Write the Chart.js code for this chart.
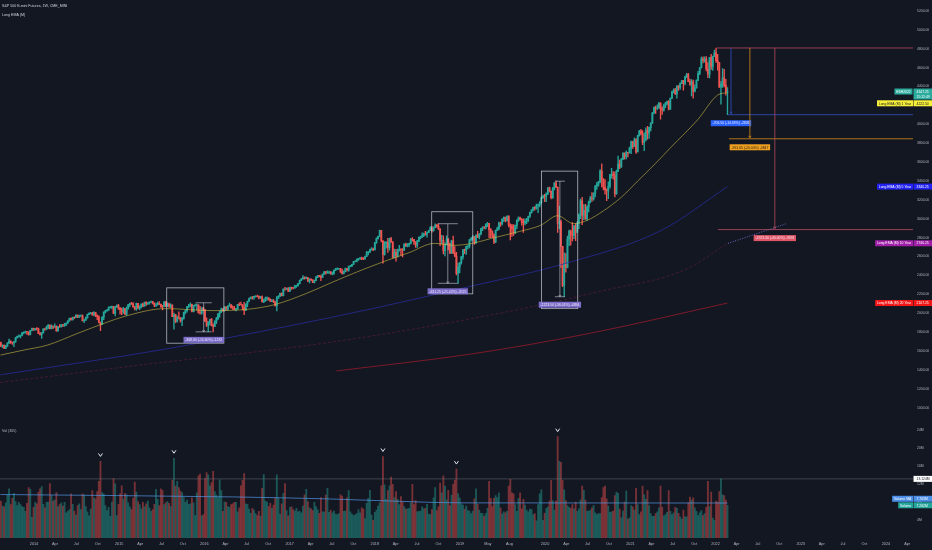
<!DOCTYPE html>
<html lang="en">
<head>
<meta charset="UTF-8">
<title>S&P 500 E-mini Futures, 1W, CME_MINI</title>
<script src="https://cdn.jsdelivr.net/npm/chart.js"></script>
<style>
html, body { margin: 0; padding: 0; background: #131722; overflow: hidden; }
#box { width: 932px; height: 550px; }
</style>
</head>
<body>
<div id="box"><canvas id="chart" width="932" height="550"></canvas></div>
<script>
// weekly bars of ESH2022 continuous, first bar is the week of 2013-08-12
const firstMonday = '2013-08-12';
const firstOpen = 1688;

const weekClose = [
  // 2013
  1652,1659,1627,1651,1683,1704,1687,1685,1700,1740,1754,1757,1766,1793,1798,1802,1801,1772,1816,1838,
  // 2014
  1826,1837,1834,1784,1776, 1792,1834,1832,1854, 1874,1835,1861,1852, 1860,1811,1859,1858, 1876,1872,1872,1895,1919, 1945,1930,1957,1954, 1979,1960,1971,1972, 1920,1925,1950,1985,2000, 2004,1982,2006,1978, 1962,1901,1881,1958,2011, 2025,2035,2058,2063, 2071,1998,2065,2084,
  // 2015
  2052,2038,2013,2045,1988, 2049,2090,2104,2098, 2066,2047,2103,2055, 2058,2095,2075,2111, 2101,2110,2116,2120,2100, 2085,2087,2103,2094, 2069,2068,2119,2073,2097, 2071,2085,1964,1982, 1914,1954,1949,1924, 1944,2008,2027,2069,2072, 2093,2016,2082,2085, 2087,2006,2000,2054,
  // 2016
  2038,1917,1874,1900,1934, 1874,1859,1911,1943, 1994,2017,2044,2027, 2066,2041,2075,2086,2059, 2050,2040,2046,2093, 2092,2089,2064,2030, 2097,2124,2155,2169,2166, 2177,2178,2177,2162, 2173,2120,2132,2157,2161, 2146,2126,2134,2121, 2078,2159,2177,2209, 2186,2255,2254,2259,2233,
  // 2017
  2271,2269,2266,2289, 2292,2312,2347,2364, 2380,2369,2376,2341,2359, 2352,2324,2345,2381, 2397,2387,2379,2413, 2437,2429,2431,2436,2419, 2422,2456,2469,2469, 2472,2437,2421,2439, 2472,2457,2497,2499,2516, 2546,2550,2572,2578, 2584,2579,2575,2600, 2639,2648,2672,2679,2669,
  // 2018
  2746,2789,2813,2876, 2767,2623,2736,2750, 2694,2790,2754,2590,2643, 2606,2659,2673,2672, 2666,2731,2716,2725, 2736,2782,2779,2756,2721, 2762,2804,2804,2821, 2843,2836,2854,2877,2904, 2874,2907,2931,2919, 2891,2771,2772,2661, 2728,2786,2740,2636,2767, 2637,2603,2421,2489,
  // 2019
  2534,2599,2671,2668, 2709,2711,2779,2796, 2807,2746,2826,2805,2838, 2897,2911,2910,2944, 2950,2884,2862,2830,2755, 2878,2892,2954,2945, 2995,3016,2979,3027, 2935,2921,2891,2849,2927, 2981,3009,2994,2962, 2955,2972,2988,3024, 3067,3094,3121,3111,3143, 3147,3171,3224,3243,
  // 2020
  3237,3264,3327,3292,3224, 3325,3377,3335,2951, 2966,2708,2294,2527, 2485,2786,2868,2829, 2822,2923,2856,2947,3040, 3190,3035,3090,3000, 3124,3179,3218,3209,3266, 3346,3366,3392,3505, 3420,3335,3308,3294, 3342,3469,3474,3456,3262, 3500,3578,3549,3629, 3693,3657,3703,3696,
  // 2021
  3748,3817,3762,3835,3707, 3880,3928,3900,3805, 3835,3936,3906,3967, 4013,4122,4178,4174,4174, 4225,4166,4149,4197, 4222,4240,4160,4275, 4345,4363,4322,4405,4389, 4430,4462,4435,4502, 4530,4452,4426,4450, 4352,4385,4465,4538,4599, 4691,4676,4691,4588, 4532,4706,4614,4718,4758,
  // 2022
  4672,4657,4394,4425, 4492,4412,4342,4347.25
];
const weekHigh = [
  1693,1665,1664,1659,1685,1726,1707,1694,1702,1743,1758,1770,1767,1795,1803,1810,1808,1803,1819,1842,
  1842,1840,1846,1842,1796, 1795,1835,1843,1862, 1879,1875,1876,1865, 1887,1866,1860,1878, 1881,1881,1893,1897,1920, 1947,1950,1958,1960, 1981,1979,1980,1983, 1982,1937,1958,1991,2002, 2010,2005,2017,2008, 1983,1973,1905,1961,2015, 2029,2039,2066,2072, 2074,2073,2073,2089,
  2094,2062,2054,2063,2051, 2068,2093,2107,2115, 2112,2070,2108,2102, 2078,2100,2107,2116, 2122,2112,2120,2127,2125, 2110,2108,2117,2123, 2096,2084,2120,2125,2110, 2106,2098,2088,2000, 1988,1968,2014,1952, 1955,2012,2030,2070,2093, 2110,2096,2084,2097, 2097,2087,2073,2058,
  2064,2035,1950,1910,1934, 1945,1888,1922,1955, 1996,2018,2054,2049, 2066,2068,2081,2106,2093, 2077,2072,2052,2094, 2110,2117,2091,2115, 2098,2128,2159,2171,2175, 2182,2187,2191,2184, 2178,2184,2149,2171,2172, 2162,2151,2146,2145, 2122,2179,2187,2212, 2214,2257,2274,2267,2272,
  2275,2277,2274,2296, 2298,2314,2349,2365, 2399,2384,2386,2374,2365, 2365,2354,2351,2387, 2399,2400,2402,2414, 2439,2443,2447,2446,2440, 2438,2456,2474,2480, 2475,2473,2466,2447, 2477,2474,2498,2506,2518, 2549,2556,2574,2580, 2590,2593,2589,2604, 2655,2651,2679,2694,2688,
  2750,2797,2817,2879, 2875,2765,2758,2757, 2792,2794,2804,2758,2678, 2677,2679,2718,2683, 2683,2733,2742,2737, 2742,2792,2800,2782,2752, 2771,2807,2815,2850, 2848,2867,2860,2878,2916, 2917,2913,2947,2942, 2945,2895,2824,2818, 2746,2818,2784,2742,2770, 2815,2706,2645,2530,
  2538,2600,2675,2678, 2710,2720,2780,2800, 2822,2810,2830,2867,2842, 2899,2914,2916,2947, 2962,2945,2897,2872,2840, 2880,2912,2964,2964, 3000,3019,3018,3031, 3031,2947,2940,2939,2932, 2990,3021,3017,3001, 3000,2998,3004,3027, 3070,3097,3124,3128,3156, 3156,3182,3230,3250,
  3259,3275,3330,3335,3290, 3333,3382,3397.5,3263, 3134,2985,2600,2640, 2632,2815,2880,2880, 2959,2930,2945,2970,3053, 3209,3227,3151,3153, 3139,3187,3236,3276,3275, 3350,3385,3395,3520, 3581,3424,3414,3316, 3390,3471,3535,3500,3496, 3514,3664,3622,3640, 3700,3699,3720,3703,
  3760,3823,3816,3857,3850, 3886,3935,3946,3933, 3911,3962,3978,3970, 4015,4125,4184,4192,4205, 4233,4228,4186,4214, 4234,4246,4250,4280, 4351,4375,4382,4407,4412, 4438,4466,4466,4510, 4541,4540,4480,4473, 4467,4419,4470,4561,4601, 4712,4715,4715,4718, 4653,4710,4740,4723,4787,
  4808.25,4742,4646,4456, 4590,4583,4476,4390
];
const weekLow = [
  1645,1635,1626,1624,1648,1680,1679,1670,1645,1691,1734,1746,1738,1760,1780,1788,1775,1766,1769,1813,
  1818,1818,1823,1783,1768, 1733,1790,1817,1825, 1836,1832,1832,1835, 1851,1808,1808,1848, 1851,1858,1859,1869,1893, 1915,1925,1926,1942, 1951,1952,1951,1962, 1915,1898,1924,1948,1984, 1992,1978,1972,1963, 1932,1896,1814,1879,1930, 2002,2020,2030,2055, 2046,1995,1970,2062,
  2040,1988,1985,1996,1985, 1977,2042,2070,2093, 2063,2033,2030,2045, 2036,2055,2068,2076, 2081,2090,2095,2114,2098, 2070,2069,2084,2091, 2060,2034,2067,2068,2070, 2061,2058,1963,1831, 1900,1904,1939,1905, 1867,1936,1991,2010,2055, 2065,2013,2014,2073, 2034,2000,1990,1988,
  2026,1910,1857,1804,1874, 1864,1802,1857,1888, 1930,1957,2005,2018, 2020,2033,2032,2074,2053, 2040,2033,2023,2042, 2080,2085,2034,1985, 2033,2070,2123,2151,2149, 2145,2170,2172,2152, 2155,2120,2110,2125,2136, 2138,2124,2118,2111, 2075,2025,2156,2176, 2183,2183,2240,2251,2228,
  2231,2252,2256,2262, 2272,2287,2310,2343, 2356,2361,2365,2333,2319, 2344,2323,2321,2345, 2375,2384,2344,2382, 2410,2414,2422,2418,2411, 2404,2409,2449,2461, 2462,2432,2412,2415, 2437,2445,2444,2489,2493, 2519,2542,2543,2558, 2568,2566,2566,2573, 2599,2618,2640,2667,2662,
  2685,2738,2783,2811, 2755,2529,2614,2688, 2643,2666,2748,2585,2586, 2551,2595,2659,2613, 2595,2661,2704,2702, 2704,2733,2762,2728,2697, 2697,2757,2785,2802, 2811,2826,2805,2853,2883, 2857,2867,2903,2907, 2883,2714,2734,2628, 2605,2725,2671,2630,2642, 2629,2597,2404,2316,
  2426,2520,2571,2630, 2623,2681,2690,2762, 2774,2728,2737,2800,2786, 2828,2873,2892,2892, 2916,2800,2800,2799,2736, 2747,2873,2882,2919, 2935,2969,2967,2973, 2913,2776,2812,2824,2842, 2895,2972,2988,2932, 2855,2935,2948,2970, 3014,3058,3082,3090,3102, 3065,3125,3162,3215,
  3181,3181,3255,3284,3211, 3215,3304,3328,2855, 2894,2484,2280,2174, 2434,2480,2715,2720, 2766,2790,2768,2873,2895, 3000,2936,2990,2994, 2982,3072,3168,3182,3196, 3232,3310,3346,3380, 3338,3306,3261,3190, 3212,3323,3430,3419,3231, 3260,3499,3530,3543, 3629,3630,3634,3654,
  3698,3690,3745,3770,3692, 3720,3875,3888,3785, 3722,3823,3843,3850, 3931,4010,4110,4114,4155, 4168,4054,4105,4140, 4175,4205,4152,4157, 4273,4332,4316,4277,4358, 4369,4430,4362,4417, 4494,4452,4413,4300, 4278,4343,4382,4468,4525, 4594,4650,4657,4565, 4495,4490,4580,4570,4720,
  4655,4572,4390,4212, 4390,4395,4309,4101.75
];
// weekly volume, millions of contracts
const weekVolume = [
  8.2,7.1,6.9,7.8,9.6,10.9,7.4,8.8,9.9,8.1,7.2,7.9,7.4,7.0,6.8,5.9,7.7,11.2,10.8,4.6,
  6.8,7.9,7.6,10.2,10.9, 11.4,7.5,6.7,7.9, 8.0,12.1,9.4,8.2, 8.5,10.1,7.0,7.4, 7.8,7.1,7.9,5.6,5.9, 6.3,9.8,7.5,6.0, 5.1,7.2,7.6,6.3, 9.8,9.5,7.0,5.8,4.9, 6.4,10.5,8.9,8.7, 10.3,12.6,17.0,10.1,9.8, 7.2,6.1,6.8,4.8, 8.0,13.2,12.0,5.0,
  7.5,9.8,11.6,8.7,9.9, 9.6,7.8,6.9,6.3, 8.8,12.4,10.2,8.1, 7.4,6.5,7.9,7.0, 7.6,8.2,6.7,5.9,6.3, 7.5,10.8,8.6,7.2, 10.9,10.6,7.4,7.8,8.1, 7.7,7.0,12.8,17.7, 11.5,12.6,11.2,10.4, 10.1,9.0,7.9,8.4,7.5, 7.6,8.9,7.8,5.0, 10.0,13.8,14.2,4.9,
  5.2,13.2,14.5,14.0,11.6, 12.3,14.8,10.3,9.5, 9.0,12.9,10.5,5.9, 8.0,7.9,7.0,6.8,7.4, 7.6,7.9,7.9,5.8, 6.7,11.6,12.8,14.3, 7.6,7.5,6.4,5.5,6.6, 6.2,5.4,5.0,5.9, 4.8,11.0,14.1,8.2,8.0, 7.0,7.7,6.6,7.3, 9.0,14.0,8.8,5.3, 7.6,9.9,12.1,6.1,4.9,
  6.8,6.9,6.3,6.0, 6.6,5.8,6.0,5.6, 7.1,9.6,10.8,8.1,6.7, 6.5,6.1,7.9,7.0, 6.3,5.5,9.0,5.8, 5.8,9.5,11.0,5.7,6.2, 5.6,6.0,5.3,5.2, 5.4,9.6,9.3,5.9, 6.0,8.9,10.5,5.8,5.3, 5.0,5.2,5.4,6.3, 5.6,6.7,6.4,4.3, 7.7,8.8,10.6,5.1,3.9,
  5.7,6.2,7.1,7.8, 11.6,18.1,11.8,8.6, 10.5,11.6,13.5,11.9,9.0, 10.3,8.6,7.4,9.2, 8.0,7.0,6.4,6.5, 6.6,7.8,11.9,7.4,8.3, 5.8,5.9,6.0,6.9, 6.5,6.6,7.5,5.3,5.2, 6.3,8.9,11.2,6.1, 6.9,12.2,10.0,13.8, 11.5,8.5,10.6,7.2,9.5, 11.9,12.8,15.3,9.8,
  8.9,7.6,7.3,6.4, 7.1,6.1,6.0,5.4, 6.0,8.7,10.9,7.5,6.2, 5.5,5.4,4.8,5.4, 6.6,12.6,8.8,7.0,8.8, 9.4,9.0,10.0,6.7, 5.3,5.8,5.6,5.9, 11.5,13.0,10.0,9.8,7.4, 5.9,8.8,10.0,6.5, 8.6,7.3,6.2,5.8, 6.4,6.3,5.2,5.4,3.8, 7.4,9.8,10.7,3.9,
  5.5,6.6,6.9,8.2,12.8, 8.3,6.2,8.2,22.5, 17.0,16.8,12.8,10.7, 8.3,7.2,6.8,6.6, 7.4,6.5,8.0,5.9,6.5, 8.5,11.5,10.6,8.4, 5.9,6.0,6.2,6.7,7.2, 5.6,5.2,5.4,5.4, 9.0,11.2,11.5,8.7, 7.1,5.7,5.8,6.0,9.4, 10.2,9.9,6.4,4.5, 6.0,8.0,10.4,4.2,
  4.5,7.2,6.9,6.2,11.0, 7.4,5.2,5.8,11.5, 9.6,8.6,10.5,7.2, 5.4,4.8,4.8,5.4,5.8, 6.7,11.5,6.8,4.9, 5.2,5.7,10.5,5.9, 5.2,5.6,6.8,6.6,5.5, 4.7,4.2,6.2,4.7, 4.7,7.8,9.1,8.4, 8.9,6.7,5.9,5.0,5.6, 6.1,5.0,5.4,6.8, 12.6,7.0,10.2,4.4,3.9,
  8.2,8.0,10.3,13.124, 9.6,9.4,8.4,7.262
];

// Long EMA (M) lines at a few dates
const ema1Year = [['2013-08-10',1556],['2013-11-20',1610],['2014-02-27',1661],['2014-07-01',1780],['2014-10-16',1881],['2015-02-06',1975],['2015-07-17',2048],['2016-02-05',2027],['2016-07-01',2040],['2016-10-28',2090],['2017-03-15',2210],['2017-06-26',2320],['2017-10-20',2440],['2018-02-25',2561],['2018-05-27',2640],['2018-09-14',2739],['2018-12-05',2718],['2019-02-24',2740],['2019-05-16',2792],['2019-09-13',2865],['2019-12-13',2930],['2020-02-24',3032],['2020-05-02',2948],['2020-07-01',2985],['2020-09-08',3085],['2020-11-24',3230],['2021-02-01',3399],['2021-04-20',3590],['2021-06-23',3755],['2021-10-16',4048],['2022-01-10',4310],['2022-02-21',4335]];
const ema5Year = [['2013-08-10',1347],['2015-07-17',1619],['2017-06-26',1954],['2019-02-24',2289],['2020-04-03',2530],['2021-05-12',2875],['2022-02-21',3340]];
const ema10Year = [['2013-08-10',1265],['2015-05-10',1462],['2017-06-26',1692],['2019-09-13',2040],['2020-09-08',2240],['2021-08-21',2457],['2022-02-21',2740]];
const ema20Year = [['2017-07-20',1388],['2019-02-15',1566],['2020-07-10',1786],['2022-02-21',2107]];
const volumeMA = [['2013-08-10',9.65],['2016-05-01',9.12],['2017-06-15',8.68],['2018-08-01',7.96],['2019-01-28',7.80],['2022-02-21',7.763]];

// axis ticks
const priceTicks = [1000,1200,1400,1600,1800,2000,2200,2400,2600,2800,3000,3200,3400,3600,3800,4000,4200,4400,4600,4800,5000,5200];
const volumeTicks = [4,8,12,16,20,24];
const tickDates = ['2014-01-01','2014-04-01','2014-07-01','2014-10-01','2015-01-01','2015-04-01','2015-07-01','2015-10-01','2016-01-01','2016-04-01','2016-07-01','2016-10-01','2017-01-01','2017-04-01','2017-07-01','2017-10-01','2018-01-01','2018-04-01','2018-07-01','2018-10-01','2019-01-01','2019-05-01','2019-08-01','2020-01-01','2020-04-01','2020-07-01','2020-10-01','2021-01-01','2021-04-01','2021-07-01','2021-10-01','2022-01-01','2022-04-01','2022-07-01','2022-10-01','2023-01-01','2023-04-01','2023-07-01','2023-10-01','2024-01-01','2024-04-01'];
const tickLabels = ['2014','Apr','Jul','Oct','2015','Apr','Jul','Oct','2016','Apr','Jul','Oct','2017','Apr','Jul','Oct','2018','Apr','Jul','Oct','2019','May','Aug','2020','Apr','Jul','Oct','2021','Apr','Jul','Oct','2022','Apr','Jul','Oct','2023','Apr','Jul','Oct','2024','Apr'];

// drawings: price range boxes, drawdown levels from the top, tags
const rangeBoxes = [
  {from:'2015-07-24', to:'2016-03-25', top:2268, bottom:1682, capFrom:'2015-11-25', capTo:'2016-02-02', hi:2110, lo:1802, text:'-308.00 (-14.60%) -1232'},
  {from:'2018-09-02', to:'2019-02-25', top:3074, bottom:2205, capFrom:'2018-09-28', capTo:'2018-12-23', hi:2947.25, lo:2316, text:'-631.25 (-21.42%) -2525'},
  {from:'2019-12-17', to:'2020-05-20', top:3504, bottom:2048, capFrom:'2020-02-12', capTo:'2020-03-26', hi:3397.5, lo:2174, text:'-1223.50 (-36.01%) -4894'}
];
const topPrice = 4808.25, topDate = '2022-01-06';
const drawdowns = [
  {price:4101.75, from:'2022-02-23', at:'2022-03-08', line:'#2f52c4', bg:'#2962ff', fg:'#e8ecff', text:'-706.50 (-14.69%) -2826'},
  {price:3846.60, from:'2022-02-27', at:'2022-05-28', line:'#d48a16', bg:'#f0a020', fg:'#2b2110', text:'-961.65 (-20.00%) -3847'},
  {price:2884.95, from:'2022-01-11', at:'2022-09-12', line:'#b84a5e', bg:'#e05668', fg:'#fbe9ec', text:'-1923.30 (-40.00%) -7693'}
];
const dottedLine = [['2022-02-23',2739],['2022-11-02',2949]];
const emaTags = [
  {name:'Long EMA (M) 1 Year', value:4222.50, bg:'#f7ee3a', fg:'#131722'},
  {name:'Long EMA (M) 5 Year', value:3340.25, bg:'#2222f2', fg:'#ffffff'},
  {name:'Long EMA (M) 10 Year', value:2740.25, bg:'#a01fa9', fg:'#ffffff'},
  {name:'Long EMA (M) 20 Year', value:2107.25, bg:'#f21616', fg:'#ffffff'}
];
const lastPrice = 4347.25, symbol = 'ESH2022', countdown = '15:12:49';
const volumeLevel = 13.124;
const volumeMarks = ['2014-10-17','2015-08-28','2018-02-09','2018-12-21','2020-02-28'];

// ---------------------------------------------------------------
const DAY = 864e5;
const Y2014 = Date.UTC(2014, 0, 1);
const toYear = s => 2014 + (Date.parse(s + 'T00:00:00Z') - Y2014) / (365.25 * DAY);
const mondayMs = Date.parse(firstMonday + 'T00:00:00Z');
const barTime = weekClose.map((_, i) => 2014 + (mondayMs + i * 7 * DAY - Y2014) / (365.25 * DAY));
const weekOpen = weekClose.map((c, i) => i ? weekClose[i - 1] : firstOpen);
const isUp = weekClose.map((c, i) => c >= weekOpen[i]);

const UP = '#26a69a', DOWN = '#ef5350';
const FONT = '"Liberation Sans", Arial, sans-serif';
const X_MIN = 2013.601, X_MAX = 2024.317;

const pts = arr => arr.map(([d, v]) => ({x: toYear(d), y: v}));

function tag(ctx, text, x, y, bg, fg, align) {
  ctx.font = '3.4px ' + FONT;
  const w = ctx.measureText(text).width + 3.5;
  const left = align === 'right' ? x - w : align === 'center' ? x - w / 2 : x;
  ctx.fillStyle = bg;
  ctx.fillRect(left, y - 3, w, 6);
  ctx.fillStyle = fg;
  ctx.textAlign = 'left';
  ctx.textBaseline = 'middle';
  ctx.fillText(text, left + 1.75, y + 0.3);
  return w;
}

function seg(ctx, x1, y1, x2, y2) {
  ctx.beginPath();
  ctx.moveTo(x1, y1);
  ctx.lineTo(x2, y2);
  ctx.stroke();
}

const overlay = {
  id: 'overlay',
  afterDatasetsDraw(chart) {
    const {ctx, chartArea: area, scales} = chart;
    const X = d => scales.x.getPixelForValue(toYear(d));
    const P = v => scales.y.getPixelForValue(v);
    const V = v => scales.yv.getPixelForValue(v);
    ctx.save();
    ctx.lineWidth = 0.8;

    // price range boxes
    rangeBoxes.forEach(b => {
      const x1 = X(b.from), x2 = X(b.to), y1 = P(b.top), y2 = P(b.bottom);
      ctx.strokeStyle = 'rgba(205,208,216,0.85)';
      ctx.strokeRect(x1, y1, x2 - x1, y2 - y1);
      const c1 = X(b.capFrom), c2 = X(b.capTo), cm = (c1 + c2) / 2, yh = P(b.hi), yl = P(b.lo);
      ctx.strokeStyle = 'rgba(190,193,204,0.8)';
      seg(ctx, c1, yh, c2, yh);
      seg(ctx, c1, yl, c2, yl);
      seg(ctx, cm, yh, cm, yl);
      seg(ctx, cm - 1.2, yl - 1.8, cm, yl);
      seg(ctx, cm + 1.2, yl - 1.8, cm, yl);
      tag(ctx, b.text, cm, yl + 8, 'rgba(134,116,214,0.92)', '#ecebff', 'center');
    });

    // drawdown levels measured from the top
    const xTop = X(topDate), yTop = P(topPrice);
    ctx.strokeStyle = '#b84a5e';
    seg(ctx, xTop, yTop, area.right, yTop);
    drawdowns.forEach(d => {
      const y = P(d.price), xa = X(d.at);
      ctx.strokeStyle = d.line;
      seg(ctx, X(d.from), y, area.right, y);
      seg(ctx, xa, yTop, xa, y - 1);
      seg(ctx, xa - 1.3, y - 3, xa, y - 1);
      seg(ctx, xa + 1.3, y - 3, xa, y - 1);
      tag(ctx, d.text, xa, y + 8.5, d.bg, d.fg, 'center');
    });

    // volume level line and spike marks
    ctx.strokeStyle = 'rgba(120,124,136,0.55)';
    seg(ctx, area.left, V(volumeLevel), area.right, V(volumeLevel));
    ctx.strokeStyle = '#e8e9ee';
    ctx.lineWidth = 1;
    volumeMarks.forEach(d => {
      const i = Math.round((Date.parse(d + 'T00:00:00Z') - 4 * DAY - mondayMs) / (7 * DAY));
      const x = scales.x.getPixelForValue(barTime[i]);
      const y = V(weekVolume[i]) - 5;
      ctx.beginPath();
      ctx.moveTo(x - 2, y - 3);
      ctx.lineTo(x, y);
      ctx.lineTo(x + 2, y - 3);
      ctx.stroke();
    });
    ctx.restore();
  },
  afterDraw(chart) {
    const {ctx, chartArea: area, scales} = chart;
    const P = v => scales.y.getPixelForValue(v);
    const V = v => scales.yv.getPixelForValue(v);
    const sx = area.right + 0.5;
    ctx.save();

    // titles
    ctx.fillStyle = '#d1d4dc';
    ctx.font = '3.6px ' + FONT;
    ctx.textAlign = 'left';
    ctx.textBaseline = 'middle';
    ctx.fillText('S&P 500 E-mini Futures, 1W, CME_MINI', 2, 5.5);
    ctx.fillText('Long EMA (M)', 2, 14.5);
    ctx.fillStyle = '#b2b5be';
    ctx.fillText('Vol (365)', 2, 431);

    // EMA tags on the price scale
    emaTags.forEach(t => {
      const y = P(t.value);
      tag(ctx, t.name, area.right, y, t.bg, t.fg, 'right');
      ctx.fillStyle = t.bg;
      ctx.fillRect(sx, y - 3, 932 - sx, 6);
      ctx.fillStyle = t.fg;
      ctx.fillText(t.value.toFixed(2), sx + 3, y + 0.3);
    });

    // last price tag
    const yl = P(lastPrice);
    tag(ctx, symbol, area.right - 0.5, yl, '#2bab9e', '#ffffff', 'right');
    ctx.fillStyle = '#2bab9e';
    ctx.fillRect(sx, yl - 3, 932 - sx, 11);
    ctx.fillStyle = '#ffffff';
    ctx.fillText(lastPrice.toFixed(2), sx + 3, yl + 0.3);
    ctx.fillText(countdown, sx + 3, yl + 5.5);

    // volume tags
    const yLevel = V(volumeLevel);
    ctx.fillStyle = '#ffffff';
    ctx.fillRect(sx, yLevel - 3, 932 - sx, 6);
    ctx.fillStyle = '#131722';
    ctx.fillText(volumeLevel.toFixed(3) + 'M', sx + 3, yLevel + 0.3);
    const yVol = V(weekVolume[weekVolume.length - 1]);
    const yMA = yVol - 6.5;
    tag(ctx, 'Volume MA', area.right, yMA, '#4c8fe6', '#ffffff', 'right');
    ctx.fillStyle = '#4c8fe6';
    ctx.fillRect(sx, yMA - 3, 932 - sx, 6);
    ctx.fillStyle = '#ffffff';
    ctx.fillText(volumeMA[volumeMA.length - 1][1].toFixed(3) + 'M', sx + 3, yMA + 0.3);
    tag(ctx, 'Volume', area.right, yVol, '#26a69a', '#ffffff', 'right');
    ctx.fillStyle = '#26a69a';
    ctx.fillRect(sx, yVol - 3, 932 - sx, 6);
    ctx.fillStyle = '#ffffff';
    ctx.fillText(weekVolume[weekVolume.length - 1].toFixed(3) + 'M', sx + 3, yVol + 0.3);
    ctx.restore();
  }
};

const lineSet = (data, color, extra) => Object.assign({
  type: 'line', data: pts(data), yAxisID: 'y', borderColor: color, borderWidth: 1,
  pointRadius: 0, cubicInterpolationMode: 'monotone', order: 1
}, extra || {});

new Chart(document.getElementById('chart'), {
  type: 'bar',
  data: {
    datasets: [
      lineSet(ema1Year, 'rgba(215,200,70,0.7)', {borderWidth: 0.8}),
      lineSet(ema5Year, 'rgba(40,46,160,0.75)'),
      lineSet(ema10Year, 'rgba(110,30,72,0.55)', {borderDash: [3, 2]}),
      lineSet(ema20Year, 'rgba(160,28,44,0.75)'),
      lineSet(dottedLine, 'rgba(120,124,220,0.85)', {borderDash: [1, 1.5], cubicInterpolationMode: 'default'}),
      lineSet(volumeMA, 'rgba(82,150,230,0.7)', {yAxisID: 'yv'}),
      {
        label: 'body', order: 2, grouped: false, barThickness: 1.2, yAxisID: 'y',
        data: weekClose.map((c, i) => ({x: barTime[i], y: [weekOpen[i], c]})),
        backgroundColor: isUp.map(u => u ? UP : DOWN)
      },
      {
        label: 'wick', order: 3, grouped: false, barThickness: 0.7, yAxisID: 'y',
        data: weekClose.map((c, i) => ({
          x: barTime[i],
          y: [Math.min(weekLow[i], weekOpen[i], c), Math.max(weekHigh[i], weekOpen[i], c)]
        })),
        backgroundColor: isUp.map(u => u ? UP : DOWN)
      },
      {
        label: 'volume', order: 4, grouped: false, barThickness: 1.2, yAxisID: 'yv',
        data: weekVolume.map((v, i) => ({x: barTime[i], y: v})),
        backgroundColor: isUp.map(u => u ? 'rgba(38,166,154,0.45)' : 'rgba(239,83,80,0.45)')
      }
    ]
  },
  options: {
    responsive: false,
    animation: false,
    layout: {padding: 0},
    plugins: {legend: {display: false}, tooltip: {enabled: false}},
    scales: {
      x: {
        type: 'linear', min: X_MIN, max: X_MAX, offset: false,
        grid: {display: false, drawTicks: false}, border: {display: false},
        afterBuildTicks: s => { s.ticks = tickDates.map(d => ({value: toYear(d)})); },
        ticks: {
          autoSkip: false, maxRotation: 0, padding: 3.5, color: '#b2b5be',
          font: {family: FONT, size: 3.8},
          callback: (v, i) => tickLabels[i]
        },
        afterFit: s => { s.height = 12; }
      },
      y: {
        type: 'linear', position: 'right', stack: 'pane', stackWeight: 420,
        min: 854.5, max: 5252.4,
        grid: {display: false, drawTicks: false}, border: {display: false},
        afterBuildTicks: s => { s.ticks = priceTicks.map(v => ({value: v})); },
        ticks: {padding: 4, color: '#b2b5be', font: {family: FONT, size: 3.4}, callback: v => v.toFixed(2)},
        afterFit: s => { s.width = 19; }
      },
      yv: {
        type: 'linear', position: 'right', stack: 'pane', stackWeight: 118,
        min: 0, max: 25.9,
        grid: {display: false, drawTicks: false}, border: {display: false},
        afterBuildTicks: s => { s.ticks = volumeTicks.map(v => ({value: v})); },
        ticks: {padding: 4, color: '#b2b5be', font: {family: FONT, size: 3.4}, callback: v => v + 'M'},
        afterFit: s => { s.width = 19; }
      }
    }
  },
  plugins: [overlay]
});
</script>
</body>
</html>
